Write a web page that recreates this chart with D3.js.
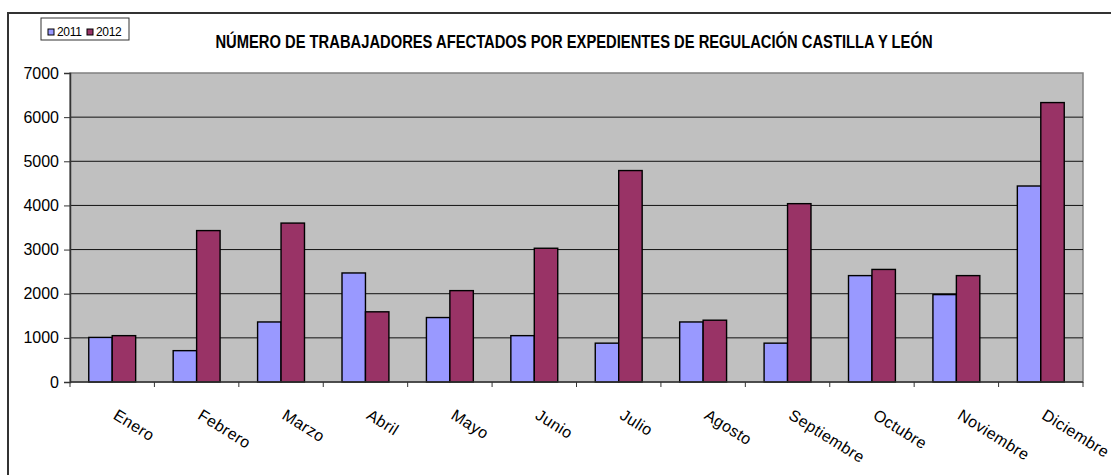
<!DOCTYPE html>
<html>
<head>
<meta charset="utf-8">
<script src="https://cdn.jsdelivr.net/npm/d3@7"></script>
<style>
  body { margin: 0; background: #fff; }
  svg { display: block; font-family: "Liberation Sans", Arial, sans-serif; }
</style>
</head>
<body>
<script>
//------------------------ DATA ------------------------//
const months = ['Enero', 'Febrero', 'Marzo', 'Abril', 'Mayo', 'Junio', 'Julio',
  'Agosto', 'Septiembre', 'Octubre', 'Noviembre', 'Diciembre'];
const series = ['2011', '2012'];
const values2011 = [1010, 710, 1360, 2470, 1460, 1050, 880, 1360, 880, 2410, 1980, 4440];
const values2012 = [1050, 3430, 3600, 1590, 2070, 3030, 4790, 1400, 4040, 2550, 2410, 6330];
const yTicks = [0, 1000, 2000, 3000, 4000, 5000, 6000, 7000];
const colors = ['#9999FF', '#993366'];
const title = 'NÚMERO DE TRABAJADORES AFECTADOS POR EXPEDIENTES DE REGULACIÓN CASTILLA Y LEÓN';

//------------------------ SETUP ------------------------//
const width = 1111;
const height = 475;
const plot = { left: 70, right: 1083, top: 73, bottom: 382 };
const font = '"Liberation Sans", Arial, sans-serif';

const svg = d3.select('body').append('svg')
  .attr('width', width)
  .attr('height', height);

// outer frame (cut off at right / bottom like the source)
svg.append('rect')
  .attr('x', 8).attr('y', 13)
  .attr('width', 1200).attr('height', 600)
  .attr('fill', 'none')
  .attr('stroke', '#333')
  .attr('stroke-width', 2);

// scales
const x0 = d3.scaleBand().domain(months).range([plot.left, plot.right]);
const x1 = d3.scaleBand().domain(series).range([0, x0.bandwidth()])
  .paddingInner(0).paddingOuter(0.8);
const y = d3.scaleLinear().domain([0, 7000]).range([plot.bottom, plot.top]);

// plot background
svg.append('rect')
  .attr('x', plot.left).attr('y', plot.top)
  .attr('width', plot.right - plot.left)
  .attr('height', plot.bottom - plot.top)
  .attr('fill', '#C0C0C0')
  .attr('stroke', '#808080')
  .attr('stroke-width', 1.5);

// gridlines
svg.append('g')
  .selectAll('line')
  .data(yTicks.filter(d => d > 0 && d < 7000))
  .join('line')
  .attr('x1', plot.left).attr('x2', plot.right)
  .attr('y1', d => y(d)).attr('y2', d => y(d))
  .attr('stroke', '#111')
  .attr('stroke-width', 1);

//------------------------ BARS ------------------------//
const rows = months.map((m, i) => ({ month: m, vals: [values2011[i], values2012[i]] }));

svg.append('g')
  .selectAll('g')
  .data(rows)
  .join('g')
  .attr('transform', d => 'translate(' + x0(d.month) + ',0)')
  .selectAll('rect')
  .data(d => d.vals.map((v, j) => ({ key: series[j], v: v, c: colors[j] })))
  .join('rect')
  .attr('x', d => x1(d.key))
  .attr('y', d => y(d.v))
  .attr('width', x1.bandwidth())
  .attr('height', d => y(0) - y(d.v))
  .attr('fill', d => d.c)
  .attr('stroke', '#000')
  .attr('stroke-width', 1.4);

//------------------------ AXES ------------------------//
const yAxis = svg.append('g')
  .attr('transform', 'translate(' + plot.left + ',0)')
  .call(d3.axisLeft(y).tickValues(yTicks).tickSize(6).tickPadding(5).tickFormat(d3.format('d')));
yAxis.select('.domain').attr('stroke', '#333').attr('stroke-width', 1.5);
yAxis.selectAll('.tick line').attr('stroke', '#333');
yAxis.selectAll('text').attr('font-size', 16).attr('fill', '#000')
  .attr('font-family', font);

// x axis: ticks at category boundaries
const xAxis = svg.append('g');
xAxis.append('line')
  .attr('x1', plot.left).attr('x2', plot.right)
  .attr('y1', plot.bottom).attr('y2', plot.bottom)
  .attr('stroke', '#333').attr('stroke-width', 1.5);
xAxis.selectAll('.xtick')
  .data(months.map(m => x0(m)).concat([plot.right]))
  .join('line')
  .attr('class', 'xtick')
  .attr('x1', d => d).attr('x2', d => d)
  .attr('y1', plot.bottom).attr('y2', plot.bottom + 5)
  .attr('stroke', '#333');

xAxis.selectAll('.xlabel')
  .data(months)
  .join('text')
  .attr('class', 'xlabel')
  .attr('transform', d => 'translate(' + (x0(d) + x0.bandwidth() / 2) + ',' + (plot.bottom + 36) + ') rotate(32)')
  .attr('font-family', font)
  .attr('font-size', 16)
  .attr('letter-spacing', '0.4px')
  .attr('fill', '#000')
  .text(d => d);

//------------------------ TITLE ------------------------//
// condensed bold look: squeeze horizontally
svg.append('text')
  .attr('transform', 'translate(574,48) scale(0.82,1)')
  .attr('text-anchor', 'middle')
  .attr('font-family', font)
  .attr('font-weight', 'bold')
  .attr('font-size', 18)
  .text(title);

//------------------------ LEGEND ------------------------//
const legend = svg.append('g').attr('transform', 'translate(41,18)');
legend.append('rect')
  .attr('width', 88).attr('height', 22)
  .attr('fill', '#fff').attr('stroke', '#333').attr('stroke-width', 1);
const items = legend.selectAll('g')
  .data(series)
  .join('g')
  .attr('transform', (d, i) => 'translate(' + (7 + i * 39) + ',0)');
items.append('rect')
  .attr('y', 11).attr('width', 6).attr('height', 6)
  .attr('fill', (d, i) => colors[i])
  .attr('stroke', '#000').attr('stroke-width', 1);
items.append('text')
  .attr('x', 9).attr('y', 18)
  .attr('font-family', font)
  .attr('font-size', 12)
  .attr('letter-spacing', '-0.3px')
  .attr('fill', '#000')
  .text(d => d);
</script>
</body>
</html>
